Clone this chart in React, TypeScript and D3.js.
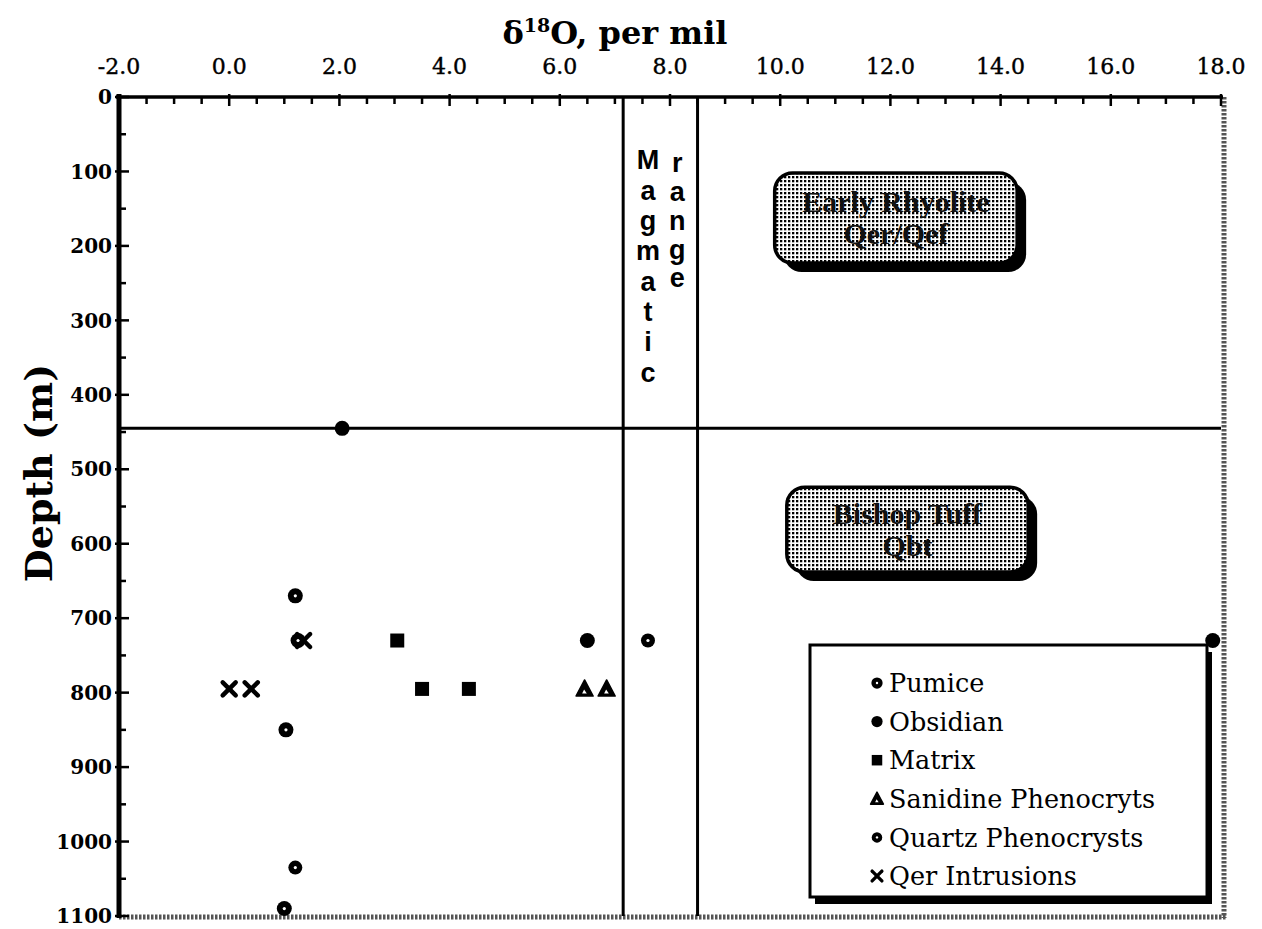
import React from 'react';
import * as d3 from 'd3';

// sample values: o = delta 18O (per mil), depth in metres
const pumice = [
  { o: 1.2, depth: 670 },
  { o: 1.25, depth: 730 },
  { o: 1.03, depth: 850 },
  { o: 1.0, depth: 1090 },
];
const obsidian = [
  { o: 2.05, depth: 445 },
  { o: 6.5, depth: 730 },
  { o: 17.85, depth: 730 },
];
const matrix = [
  { o: 3.05, depth: 730 },
  { o: 3.5, depth: 795 },
  { o: 4.35, depth: 795 },
];
const sanidine = [
  { o: 6.45, depth: 795 },
  { o: 6.85, depth: 795 },
];
const quartz = [
  { o: 7.6, depth: 730 },
  { o: 1.2, depth: 1035 },
];
const qer = [
  { o: 0.0, depth: 795 },
  { o: 0.4, depth: 795 },
  { o: 1.35, depth: 730 },
];

const oTicks = [-2, 0, 2, 4, 6, 8, 10, 12, 14, 16, 18];
const depthTicks = [0, 100, 200, 300, 400, 500, 600, 700, 800, 900, 1000, 1100];
const magmaticRange = [7.15, 8.5];
const contactDepth = 445;

const legendItems = [
  { kind: 'pumice', label: 'Pumice' },
  { kind: 'obsidian', label: 'Obsidian' },
  { kind: 'matrix', label: 'Matrix' },
  { kind: 'sanidine', label: 'Sanidine Phenocryts' },
  { kind: 'quartz', label: 'Quartz Phenocrysts' },
  { kind: 'qer', label: 'Qer Intrusions' },
];

const units = [
  { lines: ['Early Rhyolite', 'Qer/Qef'], o0: 9.9, o1: 14.3, d0: 102, d1: 223 },
  { lines: ['Bishop Tuff', 'Qbt'], o0: 10.12, o1: 14.5, d0: 524, d1: 638 },
];

const SERIF = '"DejaVu Serif", serif';
const SANS = '"Liberation Sans", Arial, sans-serif';

function Marker({ kind, cx, cy, s = 1 }) {
  if (kind === 'pumice' || kind === 'quartz') {
    const r = (kind === 'pumice' ? 7.5 : 7) * s;
    return (
      <g>
        <circle cx={cx} cy={cy} r={r} fill="#000" />
        <circle cx={cx} cy={cy} r={1.6 * s} fill="#fff" />
      </g>
    );
  }
  if (kind === 'obsidian') return <circle cx={cx} cy={cy} r={7.5 * s} fill="#000" />;
  if (kind === 'matrix') {
    const h = 7 * s;
    return <rect x={cx - h} y={cy - h} width={2 * h} height={2 * h} fill="#000" />;
  }
  if (kind === 'sanidine') {
    const h = 9 * s;
    const outer = `M${cx},${cy - h}L${cx + h * 0.95},${cy + h * 0.8}L${cx - h * 0.95},${cy + h * 0.8}Z`;
    const inner = `M${cx - 0.5 * s},${cy + 0.5 * s}L${cx + 2.2 * s},${cy + 4.5 * s}L${cx - 2.5 * s},${cy + 4.5 * s}Z`;
    return (
      <g>
        <path d={outer} fill="#000" stroke="#000" strokeWidth={1.5} strokeLinejoin="round" />
        <path d={inner} fill="#fff" />
      </g>
    );
  }
  // qer: bold cross
  const h = 6.5 * s;
  return (
    <g stroke="#000" strokeWidth={4.5 * s} strokeLinecap="round">
      <line x1={cx - h} y1={cy - h} x2={cx + h} y2={cy + h} />
      <line x1={cx - h} y1={cy + h} x2={cx + h} y2={cy - h} />
    </g>
  );
}

export default function App() {
  const x = d3.scaleLinear().domain([-2, 18]).range([119, 1221]);
  const y = d3.scaleLinear().domain([0, 1100]).range([97, 916]);

  const x0 = x(-2);
  const x1 = x(18);
  const y0 = y(0);
  const y1 = y(1100);

  const oMinor = d3.range(-2, 18.001, 0.5).filter((v) => Math.abs(v % 2) > 0.01);
  const depthMinor = d3.range(50, 1100, 100);
  const fmt = (t) => d3.format('.1f')(t).replace('\u2212', '-');

  const series = [
    ['pumice', pumice],
    ['obsidian', obsidian],
    ['matrix', matrix],
    ['sanidine', sanidine],
    ['quartz', quartz],
    ['qer', qer],
  ];

  // stacked letters of the "Magmatic range" note
  const magmaticX = x(7.6);
  const rangeX = x(8.13);

  return (
    <svg width={1262} height={929} style={{ position: 'absolute', left: 0, top: 0, background: '#fff' }}>
      <defs>
        <pattern id="dots" width={4} height={4} patternUnits="userSpaceOnUse">
          <rect width={4} height={4} fill="#fff" />
          <rect width={2.3} height={2.3} fill="#000" />
        </pattern>
      </defs>
      <rect width={1262} height={929} fill="#fff" />

      {/* title */}
      <text x={615} y={44} textAnchor="middle" fontFamily={SERIF} fontWeight="bold" fontSize={32}>
        δ<tspan fontSize={19} dy={-12}>18</tspan>
        <tspan dy={12}>O, per mil</tspan>
      </text>
      <text
        transform={`translate(52,${473}) rotate(-90)`}
        textAnchor="middle"
        fontFamily={SERIF}
        fontWeight="bold"
        fontSize={38}
      >
        Depth (m)
      </text>

      {/* top axis labels */}
      {oTicks.map((t) => (
        <text key={t} x={x(t)} y={74} textAnchor="middle" fontFamily={SERIF} fontSize={22} stroke="#000" strokeWidth={0.4}>
          {fmt(t)}
        </text>
      ))}
      {/* left axis labels */}
      {depthTicks.map((t) => (
        <text key={t} x={x0 - 7} y={y(t)} dy="0.36em" textAnchor="end" fontFamily={SERIF} fontWeight="bold" fontSize={20}>
          {t}
        </text>
      ))}

      {/* right and bottom borders (hatched) */}
      <line x1={x1 + 3} y1={y0} x2={x1 + 3} y2={y1 + 2} stroke="#555" strokeWidth={5} strokeDasharray="2.5 1.5" />
      <line x1={x0} y1={y1 + 1} x2={x1 + 5} y2={y1 + 1} stroke="#555" strokeWidth={5} strokeDasharray="2.5 1.5" />

      {/* reference lines */}
      {magmaticRange.map((v) => (
        <line key={v} x1={x(v)} y1={y0} x2={x(v)} y2={y1} stroke="#000" strokeWidth={3} />
      ))}
      <line x1={x0} y1={y(contactDepth)} x2={x1} y2={y(contactDepth)} stroke="#000" strokeWidth={3} />

      {/* top axis */}
      <line x1={x0 - 3} y1={y0} x2={x1 + 2} y2={y0} stroke="#000" strokeWidth={3.5} />
      {oTicks.map((t) => (
        <line key={t} x1={x(t)} y1={y0 - 3} x2={x(t)} y2={y0 + 9} stroke="#000" strokeWidth={2.5} />
      ))}
      {oMinor.map((t) => (
        <line key={t} x1={x(t)} y1={y0} x2={x(t)} y2={y0 + 7} stroke="#000" strokeWidth={2.5} />
      ))}

      {/* left axis */}
      <line x1={x0} y1={y0 - 3} x2={x0} y2={y1 + 2} stroke="#000" strokeWidth={5} />
      {depthTicks.map((t) => (
        <line key={t} x1={x0 - 4} y1={y(t)} x2={x0 + 10} y2={y(t)} stroke="#000" strokeWidth={2.5} />
      ))}
      {depthMinor.map((t) => (
        <line key={t} x1={x0} y1={y(t)} x2={x0 + 7} y2={y(t)} stroke="#000" strokeWidth={2.5} />
      ))}

      {/* magmatic range label */}
      {'Magmatic'.split('').map((c, i) => (
        <text key={'m' + i} x={magmaticX} y={160 + i * 30.3} dy="0.35em" textAnchor="middle"
          fontFamily={SANS} fontWeight="bold" fontSize={27}>
          {c}
        </text>
      ))}
      {'range'.split('').map((c, i) => (
        <text key={'r' + i} x={rangeX} y={164 + i * 28.8} dy="0.3em" textAnchor="middle"
          fontFamily={SANS} fontWeight="bold" fontSize={27}>
          {c}
        </text>
      ))}

      {/* unit boxes */}
      {units.map((u) => {
        const bx = x(u.o0);
        const bw = x(u.o1) - bx;
        const by = y(u.d0);
        const bh = y(u.d1) - by;
        const cx = bx + bw / 2;
        const cy = by + bh / 2;
        return (
          <g key={u.lines[0]}>
            <rect x={bx + 9} y={by + 9} width={bw} height={bh} rx={18} fill="#000" />
            <rect x={bx} y={by} width={bw} height={bh} rx={18} fill="url(#dots)" stroke="#000" strokeWidth={3.5} />
            {u.lines.map((l, i) => (
              <text key={l} x={cx} y={cy + (i - 0.5) * 32} dy="0.35em" textAnchor="middle"
                fontFamily='"Liberation Serif", serif' fontWeight="bold" fontSize={30} fill="#111">
                {l}
              </text>
            ))}
          </g>
        );
      })}

      {/* legend */}
      <g>
        <rect x={815} y={652} width={397} height={252} fill="#000" />
        <rect x={810} y={645} width={397} height={252} fill="#fff" stroke="#000" strokeWidth={3} />
        {legendItems.map((item, i) => (
          <g key={item.label}>
            <Marker kind={item.kind} cx={877} cy={683 + i * 38.6} s={0.75} />
            <text x={889} y={683 + i * 38.6} dy="0.36em" fontFamily={SERIF} fontSize={25.5}>
              {item.label}
            </text>
          </g>
        ))}
      </g>

      {/* data points */}
      {series.map(([kind, pts]) =>
        pts.map((p, i) => <Marker key={kind + i} kind={kind} cx={x(p.o)} cy={y(p.depth)} />)
      )}
    </svg>
  );
}
